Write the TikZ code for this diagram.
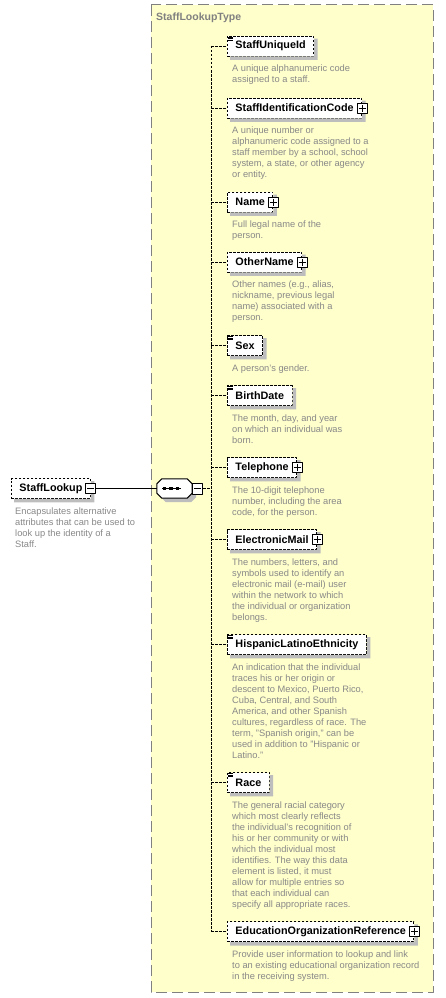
\documentclass[tikz,border=0pt]{standalone}
\usepackage{fontspec}
\setmainfont{Liberation Sans}
\definecolor{typeyellow}{HTML}{FFFFCC}
\definecolor{framegray}{HTML}{808080}
\definecolor{descgray}{HTML}{888888}
\definecolor{shadegray}{HTML}{BDBDBD}
% shadow strips right and below a box
\newcommand{\boxshade}[1]{\fill[shadegray] ([shift={(0,3)}]#1.north east) rectangle ([shift={(3.5,3.5)}]#1.south east)
	([shift={(3,0)}]#1.south west) rectangle ([shift={(3.5,3.5)}]#1.south east);}
\begin{document}
\begin{tikzpicture}[x=1pt,y=-1pt,line join=round,
	elem/.style={draw,line width=.9pt,dash pattern=on 2.5pt off 1.5pt,fill=white,anchor=west,inner xsep=8pt,inner ysep=0pt,minimum height=20pt,font=\bfseries\fontsize{10.8}{12}\selectfont},
	desc/.style={anchor=north west,inner sep=0pt,align=left,text=descgray,font=\fontsize{9.3}{11}\selectfont},
	pmbox/.style={draw,solid,line width=1pt,fill=white,minimum width=10pt,minimum height=10pt,inner sep=0pt},
	link/.style={line width=.9pt,dash pattern=on 2.5pt off 1.5pt}]
	\useasboundingbox (0,0) rectangle (445,998);
	%StaffLookupType
	\draw[fill=typeyellow,draw=framegray,line width=1pt,dash pattern=on 11pt off 5pt] (151,5) rectangle (433,992);
	\node[anchor=west,inner sep=0pt,text=framegray,font=\bfseries\fontsize{10.5}{12}\selectfont] (tname) at (156,18) {StaffLookupType};
	%StaffLookup
	\node[elem] (root) at (11,488.5) {StaffLookup\hspace{5pt}};
	\boxshade{root}
	\node[pmbox] (rootm) at (root.east) {};
	\draw[line width=1pt] ([xshift=2pt]rootm.west) -- ([xshift=-2pt]rootm.east);
	\node[desc] (rootd) at ([xshift=4pt,yshift=-9pt]root.south west) {Encapsulates alternative\\attributes that can be used to\\look up the identity of a\\Staff.};
	%sequence
	\node[minimum width=35pt,minimum height=19pt,inner sep=0pt] (seq) at (174.5,488.5) {};
	\fill[shadegray] ([shift={(9,4)}]seq.north west) -- ([shift={(-1,4)}]seq.north east) -- ([shift={(4,9)}]seq.north east)
		-- ([shift={(4,-1)}]seq.south east) -- ([shift={(-1,4)}]seq.south east) -- ([shift={(9,4)}]seq.south west)
		-- ([shift={(4,-1)}]seq.south west) -- ([shift={(4,9)}]seq.north west) -- cycle;
	\draw[line width=1pt,fill=white] ([xshift=5pt]seq.north west) -- ([xshift=-5pt]seq.north east) -- ([yshift=-5pt]seq.north east)
		-- ([yshift=5pt]seq.south east) -- ([xshift=-5pt]seq.south east) -- ([xshift=5pt]seq.south west)
		-- ([yshift=5pt]seq.south west) -- ([yshift=-5pt]seq.north west) -- cycle;
	\draw[line width=1pt] ([xshift=-12.5pt]seq.center) -- ([xshift=6.5pt]seq.center);
	\foreach \dx [count=\j] in {-10,-3.5,3}{
		\node[fill,minimum width=3.5pt,minimum height=3pt,inner sep=0pt] (sd\j) at ([xshift=\dx pt]seq.center) {};}
	\node[pmbox,anchor=west,minimum height=11pt] (seqm) at (seq.east) {};
	\draw[line width=1pt] ([xshift=2pt]seqm.west) -- ([xshift=-2pt]seqm.east);
	\draw[line width=1pt] (rootm.east) -- (seq.west);
	\coordinate (spine) at (211,488.5);
	\draw[link] (seqm.east) -- (spine);
	%children
	\foreach \n/\y/\p/\i/\d [count=\k] in {
		StaffUniqueId/46/0/1/{A unique alphanumeric code\\assigned to a staff.},
		StaffIdentificationCode/108/1/0/{A unique number or\\alphanumeric code assigned to a\\staff member by a school, school\\system, a state, or other agency\\or entity.},
		Name/202/1/0/{Full legal name of the\\person.},
		OtherName/262/1/0/{Other names (e.g., alias,\\nickname, previous legal\\name) associated with a\\person.},
		Sex/345.5/0/1/{A person's gender.},
		BirthDate/395.5/0/1/{The month, day, and year\\on which an individual was\\born.},
		Telephone/467.5/1/0/{The 10-digit telephone\\number, including the area\\code, for the person.},
		ElectronicMail/539.5/1/0/{The numbers, letters, and\\symbols used to identify an\\electronic mail (e-mail) user\\within the network to which\\the individual or organization\\belongs.},
		HispanicLatinoEthnicity/644.5/0/1/{An indication that the individual\\traces his or her origin or\\descent to Mexico, Puerto Rico,\\Cuba, Central, and South\\America, and other Spanish\\cultures, regardless of race. The\\term, "Spanish origin," can be\\used in addition to "Hispanic or\\Latino."},
		Race/782.5/0/1/{The general racial category\\which most clearly reflects\\the individual's recognition of\\his or her community or with\\which the individual most\\identifies. The way this data\\element is listed, it must\\allow for multiple entries so\\that each individual can\\specify all appropriate races.},
		EducationOrganizationReference/931.7/1/0/{Provide user information to lookup and link\\to an existing educational organization record\\in the receiving system.}}{
		\coordinate (v\k) at (211,\y);
		\node[elem] (c\k) at (227,\y) {\n\ifnum\p=1\hspace{5pt}\fi};
		\boxshade{c\k}
		\draw[link] (v\k) -- (c\k.west);
		\ifnum\p=1
		\node[pmbox] (p\k) at (c\k.east) {};
		\draw[line width=1pt] ([xshift=2pt]p\k.west) -- ([xshift=-2pt]p\k.east) ([yshift=2pt]p\k.south) -- ([yshift=-2pt]p\k.north);
		\fi
		\ifnum\i=1
		\foreach \s in {1.5,3,4.5}
		\draw[line width=.7pt] ([xshift=1pt,yshift=-\s pt]c\k.north west) -- +(5,0);
		\fi
		\node[desc] (d\k) at ([xshift=5pt,yshift=-8.5pt]c\k.south west) {\d};}
	\draw[link] (v1) -- (v11);
\end{tikzpicture}
\end{document}
